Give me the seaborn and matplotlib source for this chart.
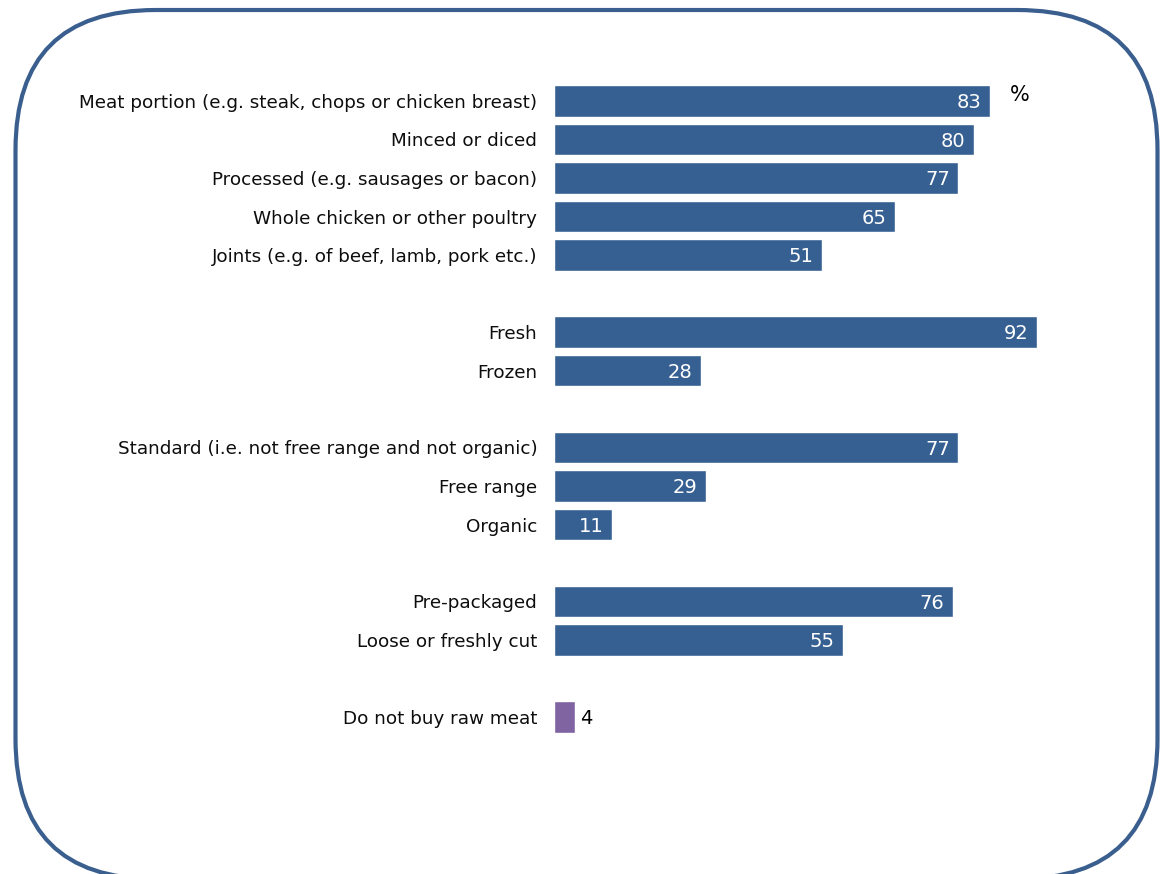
import matplotlib
matplotlib.use('Agg')
import matplotlib.pyplot as plt
import seaborn as sns
import pandas as pd
from matplotlib.patches import FancyBboxPatch

sns.set_style('white')
plt.rcParams['font.family'] = ['DejaVu Sans']

categories = [
    'Meat portion (e.g. steak, chops or chicken breast)',
    'Minced or diced',
    'Processed (e.g. sausages or bacon)',
    'Whole chicken or other poultry',
    'Joints (e.g. of beef, lamb, pork etc.)',
    'Fresh',
    'Frozen',
    'Standard (i.e. not free range and not organic)',
    'Free range',
    'Organic',
    'Pre-packaged',
    'Loose or freshly cut',
    'Do not buy raw meat',
]
values = [83, 80, 77, 65, 51, 92, 28, 77, 29, 11, 76, 55, 4]
groups = ['type'] * 5 + ['state'] * 2 + ['standard'] * 3 + ['pack'] * 2 + ['none']

# display order with blank spacer rows between groups
order = categories[:5] + [' '] + categories[5:7] + ['  '] + categories[7:10] + ['   '] + categories[10:12] + ['    '] + categories[12:]

df = pd.DataFrame({'label': categories, 'value': values,
                   'kind': ['none' if g == 'none' else 'main' for g in groups]})

fig = plt.figure(figsize=(11.6, 8.74), dpi=100)
ax = fig.add_axes([554 / 1160, 1 - 736.25 / 874, 525 / 1160, (736.25 - 81.75) / 874])

sns.barplot(data=df, x='value', y='label', hue='kind', order=order,
            palette={'main': '#376092', 'none': '#8064A2'},
            width=0.83, saturation=1, legend=False, ax=ax)

ax.set_xlim(0, 100)
ax.set_ylim(len(order) - 0.5, -0.5)
ax.set_xlabel('')
ax.set_ylabel('')
ax.set_xticks([])
for s in ax.spines.values():
    s.set_visible(False)
ax.tick_params(axis='y', length=0, pad=12, labelsize=13.2)
for t in ax.get_yticklabels():
    t.set_color('#0d0d0d')

for lab, v in zip(categories, values):
    yi = order.index(lab)
    if v >= 10:
        ax.text(v - 1.6, yi + 0.05, str(v), ha='right', va='center',
                color='white', fontsize=14)
    else:
        ax.text(v + 1.0, yi + 0.05, str(v), ha='left', va='center',
                color='black', fontsize=14)

ax.text(86.9, -0.15, '%', ha='left', va='center', fontsize=15, color='black')

# rounded frame around the whole chart (in inches)
frame = FancyBboxPatch((0.155, -0.05), 11.42, 8.69,
                       boxstyle='round,pad=0,rounding_size=1.40',
                       transform=fig.dpi_scale_trans, fill=False,
                       edgecolor='#3A5F8F', linewidth=3.0, clip_on=False)
fig.patches.append(frame)

fig.savefig('out.png', dpi=100)
